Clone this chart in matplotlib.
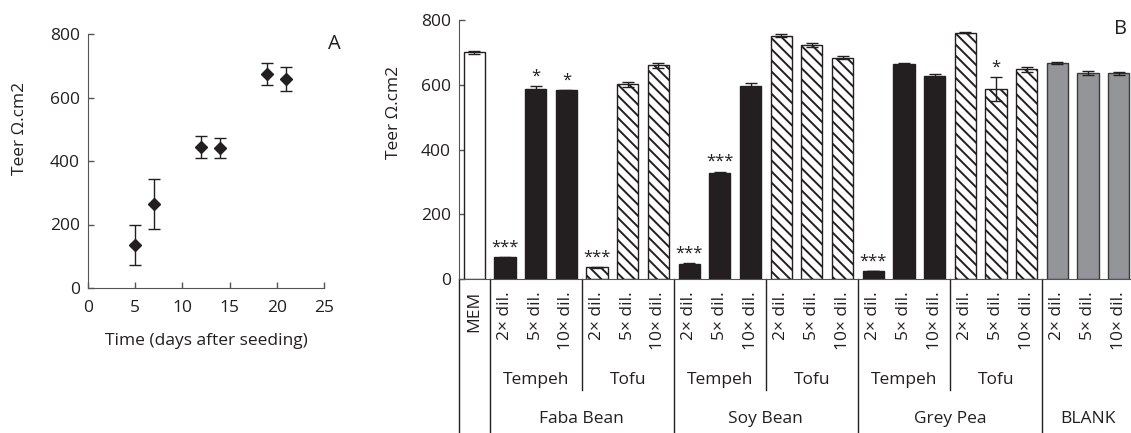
import matplotlib
matplotlib.use("Agg")
import matplotlib.pyplot as plt
import matplotlib.transforms as mtransforms

plt.rcParams['font.family'] = ['Open Sans', 'DejaVu Sans']
plt.rcParams['hatch.linewidth'] = 1.4

# ---------------- Panel A data ----------------
days = [5, 7, 12, 14, 19, 21]
teer_a = [137, 265, 444, 440, 673, 658]
err_a = [63, 79, 35, 31, 35, 37]

# ---------------- Panel B data ----------------
bar_labels = ["MEM",
              "2× dil.", "5× dil.", "10× dil.", "2× dil.", "5× dil.", "10× dil.",
              "2× dil.", "5× dil.", "10× dil.", "2× dil.", "5× dil.", "10× dil.",
              "2× dil.", "5× dil.", "10× dil.", "2× dil.", "5× dil.", "10× dil.",
              "2× dil.", "5× dil.", "10× dil."]
teer_b = [700,
          67, 587, 583, 36, 601, 660,
          45, 327, 596, 752, 722, 684,
          25, 664, 628, 761, 588, 648,
          667, 635, 635]
err_b = [4,
         2, 8, 2, 2, 9, 8,
         3, 5, 10, 6, 6, 4,
         1, 2, 6, 2, 37, 8,
         3, 6, 5]
bar_kind = ["mem",
            "tempeh", "tempeh", "tempeh", "tofu", "tofu", "tofu",
            "tempeh", "tempeh", "tempeh", "tofu", "tofu", "tofu",
            "tempeh", "tempeh", "tempeh", "tofu", "tofu", "tofu",
            "blank", "blank", "blank"]
signif = ["",
          "***", "*", "*", "***", "", "",
          "***", "***", "", "", "", "",
          "***", "", "", "", "*", "",
          "", "", ""]
sub_groups = [("Tempeh", 1, 3), ("Tofu", 4, 6), ("Tempeh", 7, 9), ("Tofu", 10, 12),
              ("Tempeh", 13, 15), ("Tofu", 16, 18)]
main_groups = [("Faba Bean", 1, 6), ("Soy Bean", 7, 12), ("Grey Pea", 13, 18), ("BLANK", 19, 21)]

styles = {
    "mem": dict(color="white", edgecolor="#231f20", hatch=None),
    "tempeh": dict(color="#231f20", edgecolor="#231f20", hatch=None),
    "tofu": dict(color="white", edgecolor="#231f20", hatch="\\\\\\"),
    "blank": dict(color="#939598", edgecolor="#3a3a3a", hatch=None),
}

W, H = 1131, 433
fig = plt.figure(figsize=(W / 100, H / 100), dpi=100)

def px_axes(l, t, r, b):
    return fig.add_axes([l / W, 1 - b / H, (r - l) / W, (b - t) / H])

FS = 12.5
TFS = 12.5
TXT = "#231f20"

# ---------------- Panel A ----------------
axA = px_axes(88, 34, 324, 288)
axA.errorbar(days, teer_a, yerr=err_a, fmt="D", color=TXT, markersize=6.5,
             ecolor=TXT, elinewidth=1, capsize=4, capthick=1)
axA.set_xlim(0, 25)
axA.set_ylim(0, 800)
axA.set_xticks([0, 5, 10, 15, 20, 25])
axA.set_yticks([0, 200, 400, 600, 800])
for s in ["top", "right"]:
    axA.spines[s].set_visible(False)
for s in ["left", "bottom"]:
    axA.spines[s].set_color("#555555")
axA.tick_params(direction="in", length=4, width=1, color="#555555", labelsize=TFS,
                labelcolor=TXT)
axA.tick_params(axis="x", pad=9)
axA.tick_params(axis="y", pad=6)
axA.set_xlabel("Time (days after seeding)", fontsize=FS, color=TXT, labelpad=12)
axA.set_ylabel("Teer Ω.cm2", fontsize=FS, color=TXT)
axA.yaxis.set_label_coords(-0.255, 0.63)
fig.text(334 / W, 1 - 44 / H, "A", fontsize=14.5, ha="center", va="center", color=TXT)

# ---------------- Panel B ----------------
axB = px_axes(459, 20, 1131, 279)
xs = list(range(len(teer_b)))
for x, v, e, k, sg in zip(xs, teer_b, err_b, bar_kind, signif):
    st = styles[k]
    axB.bar(x, v, width=0.69, color=st["color"], edgecolor=st["edgecolor"],
            hatch=st["hatch"], linewidth=1, zorder=2)
    axB.errorbar(x, v, yerr=e, fmt="none", ecolor=TXT, elinewidth=1,
                 capsize=4, capthick=1, zorder=3)
    if sg:
        axB.annotate(sg, (x, v + e), xytext=(0, 1), textcoords="offset points",
                     ha="center", va="bottom", fontsize=12, color=TXT)
axB.set_xlim(-0.5, 21.4)
axB.set_ylim(0, 800)
axB.set_yticks([0, 200, 400, 600, 800])
axB.set_xticks([])
for s in ["top", "right"]:
    axB.spines[s].set_visible(False)
for s in ["left", "bottom"]:
    axB.spines[s].set_color("#555555")
axB.tick_params(axis="y", direction="in", length=4, width=1, color="#555555",
                labelsize=TFS, labelcolor=TXT, pad=6)
axB.set_ylabel("Teer Ω.cm2", fontsize=FS, color=TXT)
axB.yaxis.set_label_coords(-0.085, 0.645)
fig.text(1121 / W, 1 - 29 / H, "B", fontsize=14.5, ha="center", va="center", color=TXT)

trans = mtransforms.blended_transform_factory(axB.transData, axB.transAxes)

def yax(py):
    return -(py - 279) / 259

# rotated bar labels
for x, lab in zip(xs, bar_labels):
    axB.text(x, yax(291), lab, transform=trans, rotation=90, ha="center", va="top",
             fontsize=FS, color=TXT)

# vertical separators
line_kw = dict(color=TXT, linewidth=1, transform=trans, clip_on=False)
axB.plot([-0.5, -0.5], [0, yax(433)], **line_kw)
for _, a, b in main_groups:
    axB.plot([a - 0.5, a - 0.5], [0, yax(433)], **line_kw)
for _, a, b in sub_groups:
    if any(a == mg[1] for mg in main_groups):
        continue
    axB.plot([a - 0.5, a - 0.5], [0, yax(390)], **line_kw)

for name, a, b in sub_groups:
    axB.text((a + b) / 2, yax(380), name, transform=trans, ha="center", va="center",
             fontsize=FS, color=TXT)
for name, a, b in main_groups:
    axB.text((a + b) / 2, yax(419), name, transform=trans, ha="center", va="center",
             fontsize=FS, color=TXT)

fig.savefig("out.png", dpi=100)
